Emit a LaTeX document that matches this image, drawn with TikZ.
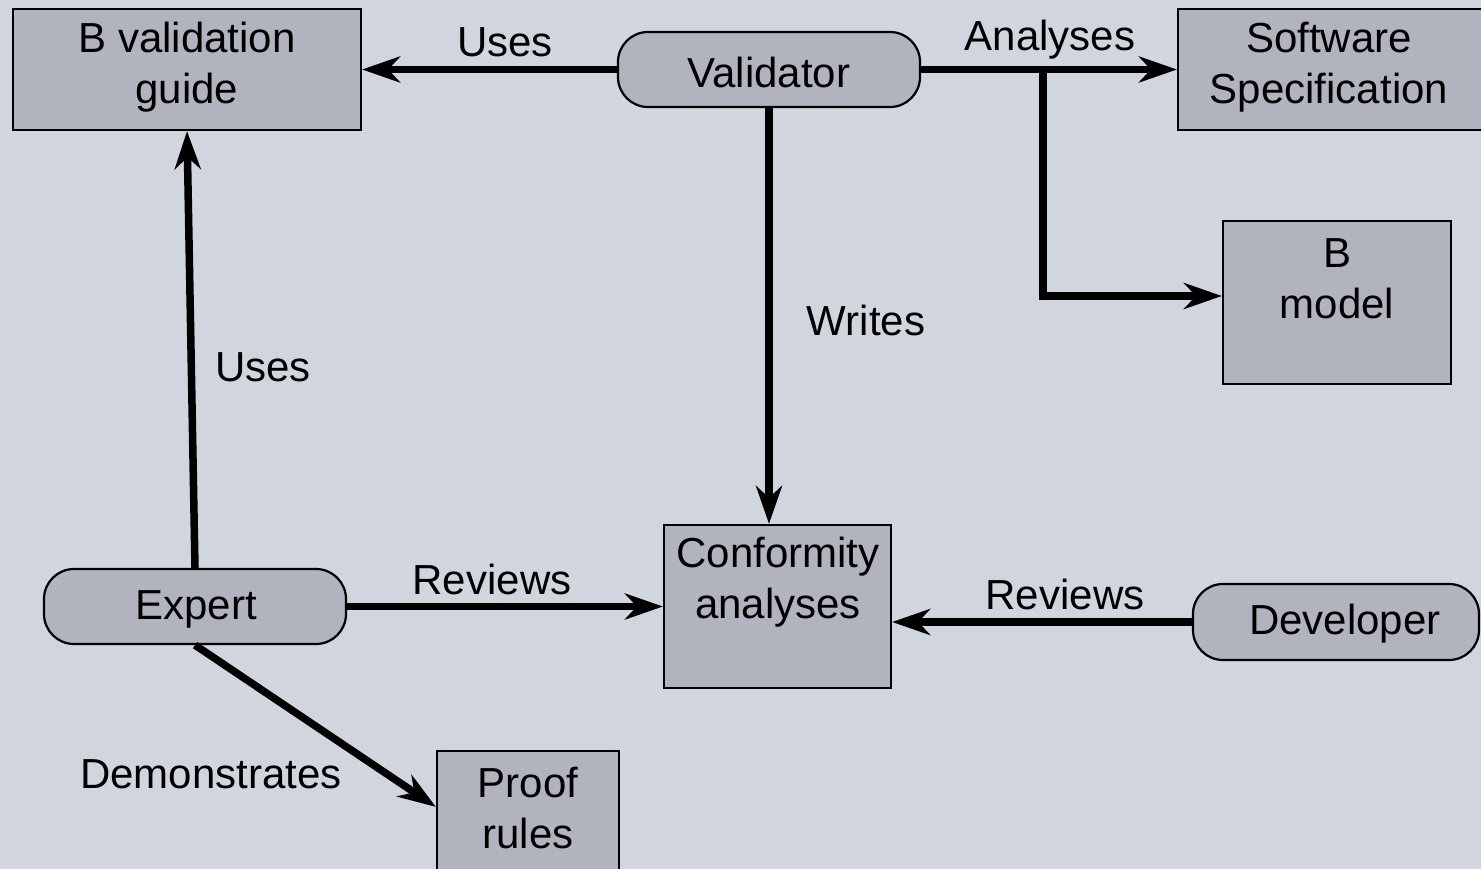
\documentclass[tikz,border=0pt]{standalone}
\usepackage{fontspec}
\setmainfont{Liberation Sans}
\usetikzlibrary{arrows.meta}
\definecolor{bgcol}{RGB}{209,213,221}
\definecolor{boxcol}{RGB}{177,180,190}
\tikzset{
  box/.style={draw=black, line width=2.2pt, fill=boxcol, rectangle, inner sep=0pt},
  actor/.style={draw=black, line width=2.2pt, fill=boxcol, rectangle, rounded corners=30pt, inner sep=0pt},
  txt/.style={inner sep=0pt, align=center, font=\fontsize{42}{51}\selectfont},
  arr/.style={line width=7.5pt, -{Stealth[length=38pt, width=26pt, inset=12pt]}},
}
\begin{document}
\begin{tikzpicture}[x=1pt, y=-1pt]
  \useasboundingbox (0,0) rectangle (1481,869);
  \fill[bgcol] (0,0) rectangle (1481,869);
  \clip (0,0) rectangle (1481,869);

  % boxes
  \node[box, minimum width=348pt, minimum height=121pt] (guide) at (187,69.5) {};
  \node[box, minimum width=320pt, minimum height=121pt] (spec) at (1338,69.5) {};
  \node[box, minimum width=228pt, minimum height=163pt] (bm) at (1337,302.5) {};
  \node[box, minimum width=227pt, minimum height=163pt] (conf) at (777.5,606.5) {};
  \node[box, minimum width=182pt, minimum height=140pt] (proof) at (528,821) {};

  % actors
  \node[actor, minimum width=302pt, minimum height=75pt] (val) at (769,69.5) {};
  \node[actor, minimum width=302pt, minimum height=75pt] (exp) at (195,606.5) {};
  \node[actor, minimum width=286pt, minimum height=76pt] (dev) at (1336,622) {};

  % texts inside shapes
  \node[txt] at (187,67) {B validation\\guide};
  \node[txt] at (1329,67) {Software\\Specification};
  \node[txt] at (1337,279) {B\\model};
  \node[txt] at (778,582) {Conformity\\analyses};
  \node[txt] at (528,808) {Proof\\rules};
  \node[txt] at (769,72) {Validator};
  \node[txt] at (196,609) {Expert};
  \node[txt] at (1345,624) {Developer};

  % connectors
  \coordinate (br) at (1043,70);
  \draw[arr] (val.west) -- (guide.east |- val.west);
  \draw[arr] (val.east) -- (spec.west |- val.east);
  \draw[line width=7.5pt] (br) -- (1043,296);
  \draw[arr] (1039.25,296) -- ([yshift=6.5pt]bm.west);
  \draw[arr] (val.south) -- (val.south |- conf.north);
  \draw[arr] (exp.north) -- (guide.south);
  \draw[arr] (exp.east) -- (conf.west);
  \draw[arr] (dev.west) -- (dev.west -| conf.east);
  \draw[arr] (exp.south) -- ([yshift=-57pt]proof.north west);

  % connector labels
  \node[txt] at (505,42) {Uses};
  \node[txt] at (1050,40) {Analyses};
  \node[txt] at (866,320) {Writes};
  \node[txt] at (263,367) {Uses};
  \node[txt] at (492,579) {Reviews};
  \node[txt] at (1065,594) {Reviews};
  \node[txt] at (211,774) {Demonstrates};
\end{tikzpicture}
\end{document}
